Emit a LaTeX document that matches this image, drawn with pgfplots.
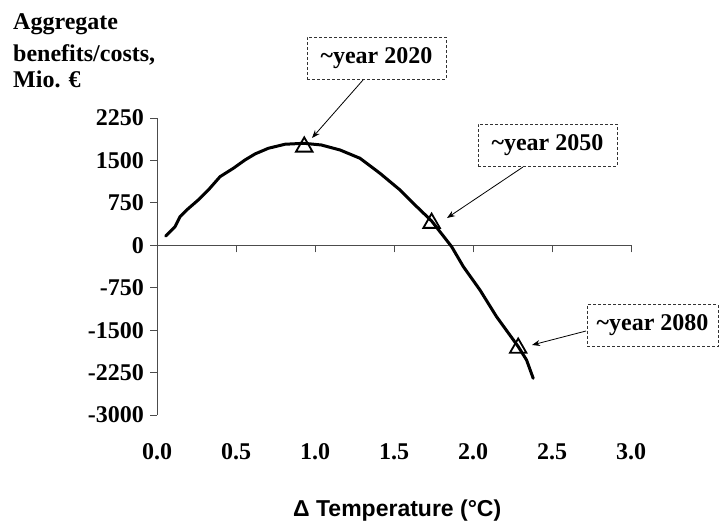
\documentclass[border=0pt]{standalone}
\usepackage{pgfplots}
\pgfplotsset{compat=1.18}
\usepackage{fontspec}
\setmainfont{Liberation Serif}
\newfontfamily\arialfont{Liberation Sans}
\usetikzlibrary{arrows.meta}

\newcommand\chartfont{\bfseries\fontsize{24}{28}\selectfont}

\begin{document}
\begin{tikzpicture}[x=1pt,y=1pt]
  \path[use as bounding box] (0,0) rectangle (720,-525);
  \begin{axis}[
      at={(157pt,-415pt)}, anchor=south west,
      scale only axis, width=474pt, height=297pt,
      xmin=0, xmax=3, ymin=-3000, ymax=2250,
      axis y line*=left, axis x line*=middle,
      hide obscured x ticks=false, hide obscured y ticks=false,
      axis line style={line width=0.9pt, black!70},
      xtick={0,0.5,1,1.5,2,2.5,3},
      xticklabels={0.0,0.5,1.0,1.5,2.0,2.5,3.0},
      ytick={-3000,-2250,-1500,-750,0,750,1500,2250},
      yticklabels={-3000,-2250,-1500,-750,0,750,1500,2250},
      tick align=outside, major tick length=7pt,
      tick style={line width=0.9pt, black!70},
      ticklabel style={font=\chartfont},
      yticklabel style={inner sep=0pt, xshift=-6pt},
      xticklabel style={anchor=base, yshift=-207pt},
      clip=false,
    ]
    \addplot[line width=3pt, line join=round, line cap=round] coordinates {
      (0.055,164) (0.114,329) (0.146,506) (0.188,624) (0.261,801)
      (0.325,978) (0.399,1213) (0.483,1361) (0.557,1508) (0.620,1614)
      (0.705,1715) (0.810,1786) (0.930,1803) (1.040,1773) (1.158,1685)
      (1.285,1538) (1.411,1273) (1.538,978) (1.622,742) (1.738,430)
      (1.791,240) (1.865,-25) (1.939,-378) (2.044,-790) (2.149,-1262)
      (2.286,-1790) (2.339,-2028) (2.381,-2351)
    };
    \addplot[only marks, mark=triangle, mark size=9.5pt,
      mark options={fill=white, line width=1.8pt}] coordinates {
      (0.932,1740) (1.738,392) (2.286,-1816)
    };
  \end{axis}

  % y label
  \node[anchor=base west, font=\chartfont, inner sep=0pt] at (13,-29.3) {Aggregate};
  \node[anchor=base west, font=\chartfont, inner sep=0pt] at (13,-61.7) {benefits/costs,};
  \node[anchor=base west, font=\chartfont, inner sep=0pt] at (13,-87.7) {Mio. €};

  % x label
  \node[anchor=base west, font=\arialfont\bfseries\fontsize{23}{27}\selectfont, inner sep=0pt]
    at (293,-516) {Δ Temperature (°C)};

  % annotations
  \tikzset{yearbox/.style={draw=black!80, dash pattern=on 3pt off 2pt, line width=0.8pt,
      minimum height=42pt, font=\chartfont, inner sep=0pt}}
  \node[yearbox, minimum width=139pt] at (376.5,-58) {\textasciitilde year 2020};
  \node[yearbox, minimum width=139pt] at (547.5,-145) {\textasciitilde year 2050};
  \node[yearbox, minimum width=131pt] at (652.5,-325.5) {\textasciitilde year 2080};
  \draw[-{Stealth[length=8pt,width=6pt]}, line width=0.8pt] (363,-80) -- (312,-138);
  \draw[-{Stealth[length=8pt,width=6pt]}, line width=0.8pt] (523,-167) -- (447,-218);
  \draw[-{Stealth[length=8pt,width=6pt]}, line width=0.8pt] (586,-331) -- (532,-345);
\end{tikzpicture}
\end{document}
